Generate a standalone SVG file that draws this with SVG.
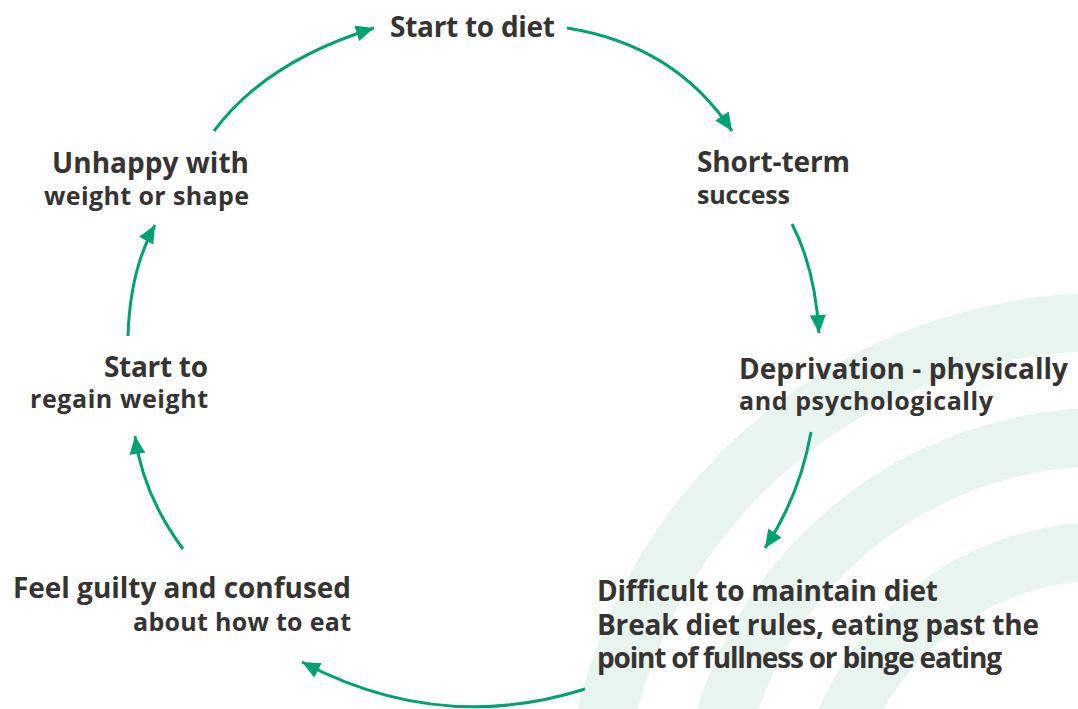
<svg xmlns="http://www.w3.org/2000/svg" width="1078" height="709" viewBox="0 0 1078 709">
<style>
.t{font-family:"Open Sans","Liberation Sans",sans-serif;font-weight:700;fill:#363333}
.b{font-size:28px}
.s{font-size:25px}
.c{fill:none;stroke:#00a274;stroke-width:3}
.bg{fill:none;stroke:#e8f4ee;stroke-width:58}
</style>
<defs>
<marker id="ah" markerUnits="userSpaceOnUse" markerWidth="20" markerHeight="16" refX="18" refY="8" orient="auto">
<path d="M0,0 L18,8 L0,16 Z" fill="#00a274"/>
</marker>
</defs>
<rect width="1078" height="709" fill="#ffffff"/>
<g id="background">
<circle class="bg" cx="1105" cy="835" r="513"/>
<circle class="bg" cx="1105" cy="835" r="398"/>
<circle class="bg" cx="1105" cy="835" r="284"/>
</g>
<g id="connectors">
<path class="c" marker-end="url(#ah)" d="M214,131 Q265,62 374,28"/>
<path class="c" marker-end="url(#ah)" d="M567,28 Q675,45 732,131"/>
<path class="c" marker-end="url(#ah)" d="M792,224 Q815,268 819,333"/>
<path class="c" marker-end="url(#ah)" d="M811,432 Q800,495 765,548"/>
<path class="c" marker-end="url(#ah)" d="M585,689 Q440,735 302,662"/>
<path class="c" marker-end="url(#ah)" d="M183,549 Q143,495 135,436"/>
<path class="c" marker-end="url(#ah)" d="M128,336 Q130,270 155,225"/>
</g>
<g id="node-start-diet">
<text class="t b" x="390" y="37" textLength="165">Start to diet</text>
</g>
<g id="node-short-term">
<text class="t b" x="697" y="172" textLength="153">Short-term</text>
<text class="t s" x="697" y="204" textLength="93">success</text>
</g>
<g id="node-deprivation">
<text class="t b" x="739" y="379" textLength="329">Deprivation - physically</text>
<text class="t s" x="739" y="410" textLength="254">and psychologically</text>
</g>
<g id="node-difficult">
<text class="t b" x="597" y="601" textLength="341">Difficult to maintain diet</text>
<text class="t b" x="597" y="635" textLength="442">Break diet rules, eating past the</text>
<text class="t b" x="597" y="668" textLength="405">point of fullness or binge eating</text>
</g>
<g id="node-guilty">
<text class="t b" x="13" y="598" textLength="338">Feel guilty and confused</text>
<text class="t s" x="133" y="631" textLength="218">about how to eat</text>
</g>
<g id="node-regain">
<text class="t b" x="104" y="377" textLength="104">Start to</text>
<text class="t s" x="30" y="408" textLength="178">regain weight</text>
</g>
<g id="node-unhappy">
<text class="t b" x="52" y="173" textLength="197">Unhappy with</text>
<text class="t s" x="44" y="205" textLength="205">weight or shape</text>
</g>
</svg>
